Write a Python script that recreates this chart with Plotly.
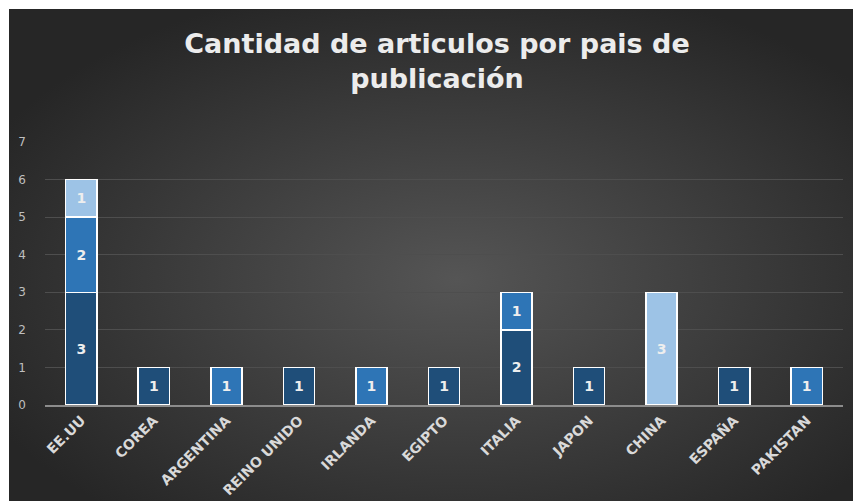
import base64
import plotly.graph_objects as go

paises = ["EE.UU", "COREA", "ARGENTINA", "REINO UNIDO", "IRLANDA", "EGIPTO",
          "ITALIA", "JAPON", "CHINA", "ESPAÑA", "PAKISTAN"]
serie1 = [3, 1, None, 1, None, 1, 2, 1, None, 1, None]
serie2 = [2, None, 1, None, 1, None, 1, None, None, None, 1]
serie3 = [1, None, None, None, None, None, None, None, 3, None, None]
y_ticks = [0, 1, 2, 3, 4, 5, 6, 7]

colores = ["#1f4e79", "#2e75b6", "#9dc3e6"]
nombres = ["Serie1", "Serie2", "Serie3"]

W, H = 853, 501
L, R, T, B = 45, 10, 142, 96
pw, ph = W - L - R, H - T - B

fig = go.Figure()
for vals, col, nom in zip([serie1, serie2, serie3], colores, nombres):
    fig.add_trace(go.Bar(
        x=paises, y=vals, name=nom,
        marker=dict(color=col, line=dict(color="#ffffff", width=1.5)),
        text=[str(v) if v is not None else "" for v in vals],
        textposition="inside", insidetextanchor="middle", textangle=0,
        textfont=dict(family="DejaVu Sans", size=14, color="#eeeeee", weight="bold"),
        constraintext="none",
    ))

svg = f'''<svg xmlns="http://www.w3.org/2000/svg" width="{W-9}" height="{H-9}" viewBox="0 0 {W-9} {H-9}" preserveAspectRatio="none">
<defs><radialGradient id="g" cx="53%" cy="55%" r="62%">
<stop offset="0%" stop-color="#555555"/>
<stop offset="100%" stop-color="#262626"/>
</radialGradient></defs>
<rect x="0" y="0" width="{W-9}" height="{H-9}" fill="url(#g)"/></svg>'''
src = "data:image/svg+xml;base64," + base64.b64encode(svg.encode()).decode()

x0 = (9 - L) / pw
y_top = (H - B - 9) / ph
fig.add_layout_image(dict(
    source=src, xref="paper", yref="paper",
    x=x0, y=y_top, sizex=(W - L) / pw - x0, sizey=y_top + B / ph,
    xanchor="left", yanchor="top", sizing="stretch", layer="below",
))

# white strips along top and left edge
fig.add_shape(type="rect", xref="paper", yref="paper",
              x0=-L / pw, x1=(W - L) / pw, y0=(H - B - 9) / ph, y1=(H - B) / ph,
              fillcolor="#ffffff", line=dict(width=0), layer="below")
fig.add_shape(type="rect", xref="paper", yref="paper",
              x0=-L / pw, x1=(9 - L) / pw, y0=-B / ph, y1=(H - B) / ph,
              fillcolor="#ffffff", line=dict(width=0), layer="below")

fig.update_layout(
    width=W, height=H,
    margin=dict(l=L, r=R, t=T, b=B, pad=0, autoexpand=False),
    barmode="stack", bargap=0.57,
    showlegend=False,
    paper_bgcolor="#2b2b2b",
    plot_bgcolor="rgba(0,0,0,0)",
    title=dict(
        text="Cantidad de articulos por pais de<br>publicación",
        x=437 / W, xanchor="center", y=1 - 53 / H, yanchor="top",
        font=dict(family="DejaVu Sans", size=27, color="#ececec", weight="bold"),
        automargin=False,
    ),
    font=dict(family="DejaVu Sans"),
)
fig.update_xaxes(
    tickangle=-45, showline=True, linecolor="#8c8c8c", linewidth=1.5,
    showgrid=False, ticks="", automargin=False,
    tickfont=dict(family="DejaVu Sans", size=14, color="#d9d9d9", weight="bold"),
)
fig.update_yaxes(
    range=[0, 7], tickvals=y_ticks, showgrid=True, gridcolor="#4e4e4e", gridwidth=1,
    zeroline=False, showline=False, ticks="", ticklabelstandoff=18, automargin=False,
    tickfont=dict(family="DejaVu Sans", size=12, color="#bfbfbf"),
)
fig.write_html("out.html")
